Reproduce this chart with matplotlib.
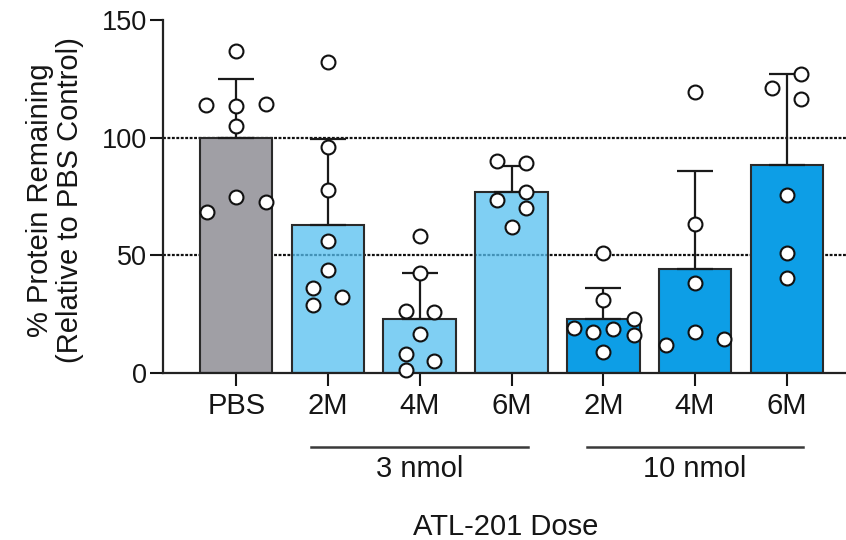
import matplotlib
matplotlib.use("Agg")
import matplotlib.pyplot as plt
import matplotlib.transforms as mtransforms

plt.rcParams['font.family'] = ['Liberation Sans', 'DejaVu Sans']

# 数据
labels = ['PBS', '2M', '4M', '6M', '2M', '4M', '6M']
means = [100, 63, 23, 77, 23, 44, 88.5]
sds = [25, 36.5, 19.5, 11, 13, 42, 38.5]
group_names = ['3 nmol', '10 nmol']
group_members = [[1, 2, 3], [4, 5, 6]]

pts_y = [
    [137, 113.8, 113.4, 114.5, 104.9, 68.4, 74.8, 72.7],
    [132.3, 96.1, 77.9, 56.0, 43.6, 36.2, 32.3, 28.7],
    [58.1, 42.5, 26.2, 25.9, 16.7, 8.2, 5.3, 1.4],
    [90, 89.3, 76.7, 73.7, 70.3, 62.0],
    [51.0, 30.9, 23.1, 19.1, 17.4, 18.8, 16.0, 8.9],
    [119.2, 63.5, 38.4, 17.4, 14.3, 12.1],
    [126.9, 121.2, 116.4, 75.8, 51.0, 40.5],
]
pts_dx = [
    [0, -0.33, 0, 0.32, 0, -0.32, 0, 0.32],
    [0, 0, 0, 0, 0, -0.16, 0.15, -0.16],
    [0, 0, -0.15, 0.16, 0, -0.15, 0.16, -0.15],
    [-0.16, 0.16, 0.16, -0.16, 0.16, 0],
    [0, 0, 0.33, -0.32, -0.11, 0.11, 0.33, 0],
    [0, 0, 0, 0, 0.32, -0.32],
    [0.15, -0.16, 0.15, 0, 0, 0],
]

gray = (0.627, 0.624, 0.647, 1.0)
light = (0.33, 0.75, 0.94, 0.75)   # semi-transparent so the dotted line shows
blue = (0.05, 0.62, 0.90, 1.0)
face = [gray, light, light, light, blue, blue, blue]
txt = '#151515'

fig = plt.figure(figsize=(8.46, 5.40), dpi=100)
ax = fig.add_axes([163 / 846, 167 / 540, 0.81, 353 / 540])

x = list(range(len(labels)))

# 虚线参考线
for yv in [50, 100]:
    ax.axhline(yv, color='#111111', lw=1.6, ls=(0, (1.3, 0.7)), zorder=1)

ax.bar(x, means, width=0.79, color=face, edgecolor='#2a2a2a', linewidth=1.5, zorder=2)
ax.errorbar(x, means, yerr=[[0] * len(x), sds], fmt='none', ecolor='#1a1a1a',
            elinewidth=1.6, capsize=13, capthick=1.6, zorder=3)

for i in x:
    xs = [i + d for d in pts_dx[i]]
    ax.plot(xs, pts_y[i], 'o', ms=10, mfc='white', mec='#111111', mew=1.5,
            zorder=4, clip_on=False)

ax.set_xlim(-0.798, 6.67)
ax.set_ylim(0, 150)
ax.set_yticks([0, 50, 100, 150])
ax.set_xticks(x)
ax.set_xticklabels(labels)
ax.tick_params(axis='y', length=9.5, width=1.5, pad=2, labelsize=19.5, colors=txt)
ax.tick_params(axis='x', length=9.5, width=1.5, pad=4, labelsize=21, colors=txt)
for s in ['top', 'right']:
    ax.spines[s].set_visible(False)
for s in ['left', 'bottom']:
    ax.spines[s].set_linewidth(1.6)
    ax.spines[s].set_color('#222222')

# 分组标注
trans = mtransforms.blended_transform_factory(ax.transData, ax.transAxes)
for name, mem in zip(group_names, group_members):
    x0, x1 = mem[0] - 0.18, mem[-1] + 0.18
    ax.plot([x0, x1], [-0.209, -0.209], color='#3a3a3a', lw=1.8,
            transform=trans, clip_on=False)
    ax.text((mem[0] + mem[-1]) / 2, -0.272, name, transform=trans,
            ha='center', va='center', fontsize=21, color=txt)

ax.text(0.5, -0.436, 'ATL-201 Dose', transform=ax.transAxes,
        ha='center', va='center', fontsize=21, color=txt)

fig.text(55 / 846, 1 - 200 / 540, '% Protein Remaining\n(Relative to PBS Control)',
         rotation=90, ha='center', va='center', fontsize=21, color=txt,
         linespacing=1.1, multialignment='center')

fig.savefig('out.png', dpi=100)
